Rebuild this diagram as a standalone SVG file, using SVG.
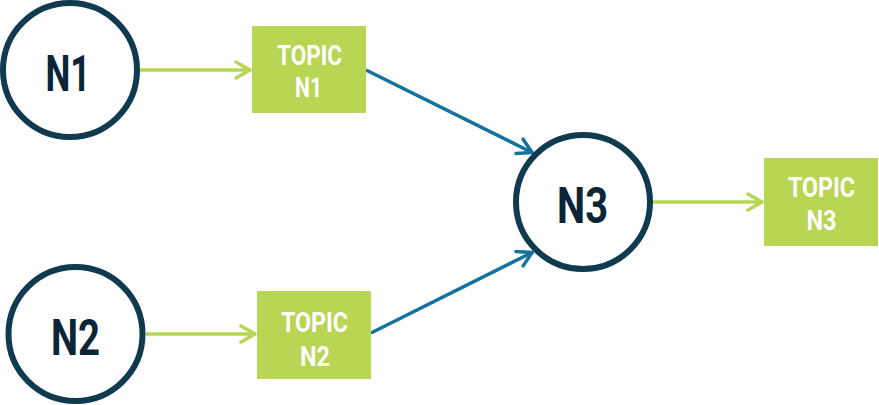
<svg xmlns="http://www.w3.org/2000/svg" width="879" height="405" viewBox="0 0 879 405">
<defs>
<style>
.node circle{fill:#fff;stroke:#0f3a4f;stroke-width:6}
.node .lbl{font-family:Roboto,"Liberation Sans",sans-serif;font-weight:bold;font-size:50px;fill:#0b2536;text-anchor:middle}
.topic rect{fill:#b8d554}
.topic text{font-family:Roboto,"Liberation Sans",sans-serif;font-weight:bold;font-size:28px;fill:#fff;text-anchor:middle}
.g{stroke:#b8d554;stroke-width:3.5;fill:none}
.b{stroke:#15729a;stroke-width:3.5;fill:none}
</style>
<marker id="ag" markerUnits="userSpaceOnUse" viewBox="-20 -12 24 24" markerWidth="24" markerHeight="24" refX="0" refY="0" orient="auto" overflow="visible">
<path d="M-15,-8 L-1,0 L-15,8" fill="none" stroke="#b8d554" stroke-width="3.5" stroke-linecap="round" stroke-linejoin="round"/>
</marker>
<marker id="ab" markerUnits="userSpaceOnUse" viewBox="-20 -12 24 24" markerWidth="24" markerHeight="24" refX="0" refY="0" orient="auto" overflow="visible">
<path d="M-15,-8 L-1,0 L-15,8" fill="none" stroke="#15729a" stroke-width="3.5" stroke-linecap="round" stroke-linejoin="round"/>
</marker>
</defs>
<g id="connectors">
<line class="g" x1="140" y1="70" x2="251" y2="70" marker-end="url(#ag)"/>
<line class="g" x1="146" y1="334" x2="256" y2="334" marker-end="url(#ag)"/>
<line class="g" x1="653" y1="202" x2="763" y2="202" marker-end="url(#ag)"/>
<line class="b" x1="366" y1="70" x2="533" y2="153" marker-end="url(#ab)"/>
<line class="b" x1="371" y1="333" x2="533" y2="252" marker-end="url(#ab)"/>
</g>
<g id="N1" class="node">
<circle cx="70" cy="70" r="67"/>
<text class="lbl" x="68" y="91" textLength="45" lengthAdjust="spacingAndGlyphs">N1</text>
</g>
<g id="N2" class="node">
<circle cx="75.5" cy="334" r="67"/>
<text class="lbl" x="75.5" y="355" textLength="49" lengthAdjust="spacingAndGlyphs">N2</text>
</g>
<g id="N3" class="node">
<circle cx="583" cy="202" r="67"/>
<text class="lbl" x="582.5" y="223" textLength="51" lengthAdjust="spacingAndGlyphs">N3</text>
</g>
<g id="topicN1" class="topic">
<rect x="252" y="26" width="114" height="87"/>
<text x="309.5" y="65" textLength="65" lengthAdjust="spacingAndGlyphs">TOPIC</text>
<text x="308.5" y="97" textLength="27" lengthAdjust="spacingAndGlyphs">N1</text>
</g>
<g id="topicN2" class="topic">
<rect x="257" y="291" width="114" height="88"/>
<text x="314.5" y="332" textLength="67" lengthAdjust="spacingAndGlyphs">TOPIC</text>
<text x="315" y="366" textLength="30" lengthAdjust="spacingAndGlyphs">N2</text>
</g>
<g id="topicN3" class="topic">
<rect x="764" y="158" width="114" height="88"/>
<text x="821.5" y="197" textLength="67" lengthAdjust="spacingAndGlyphs">TOPIC</text>
<text x="821.5" y="230" textLength="30" lengthAdjust="spacingAndGlyphs">N3</text>
</g>
</svg>
